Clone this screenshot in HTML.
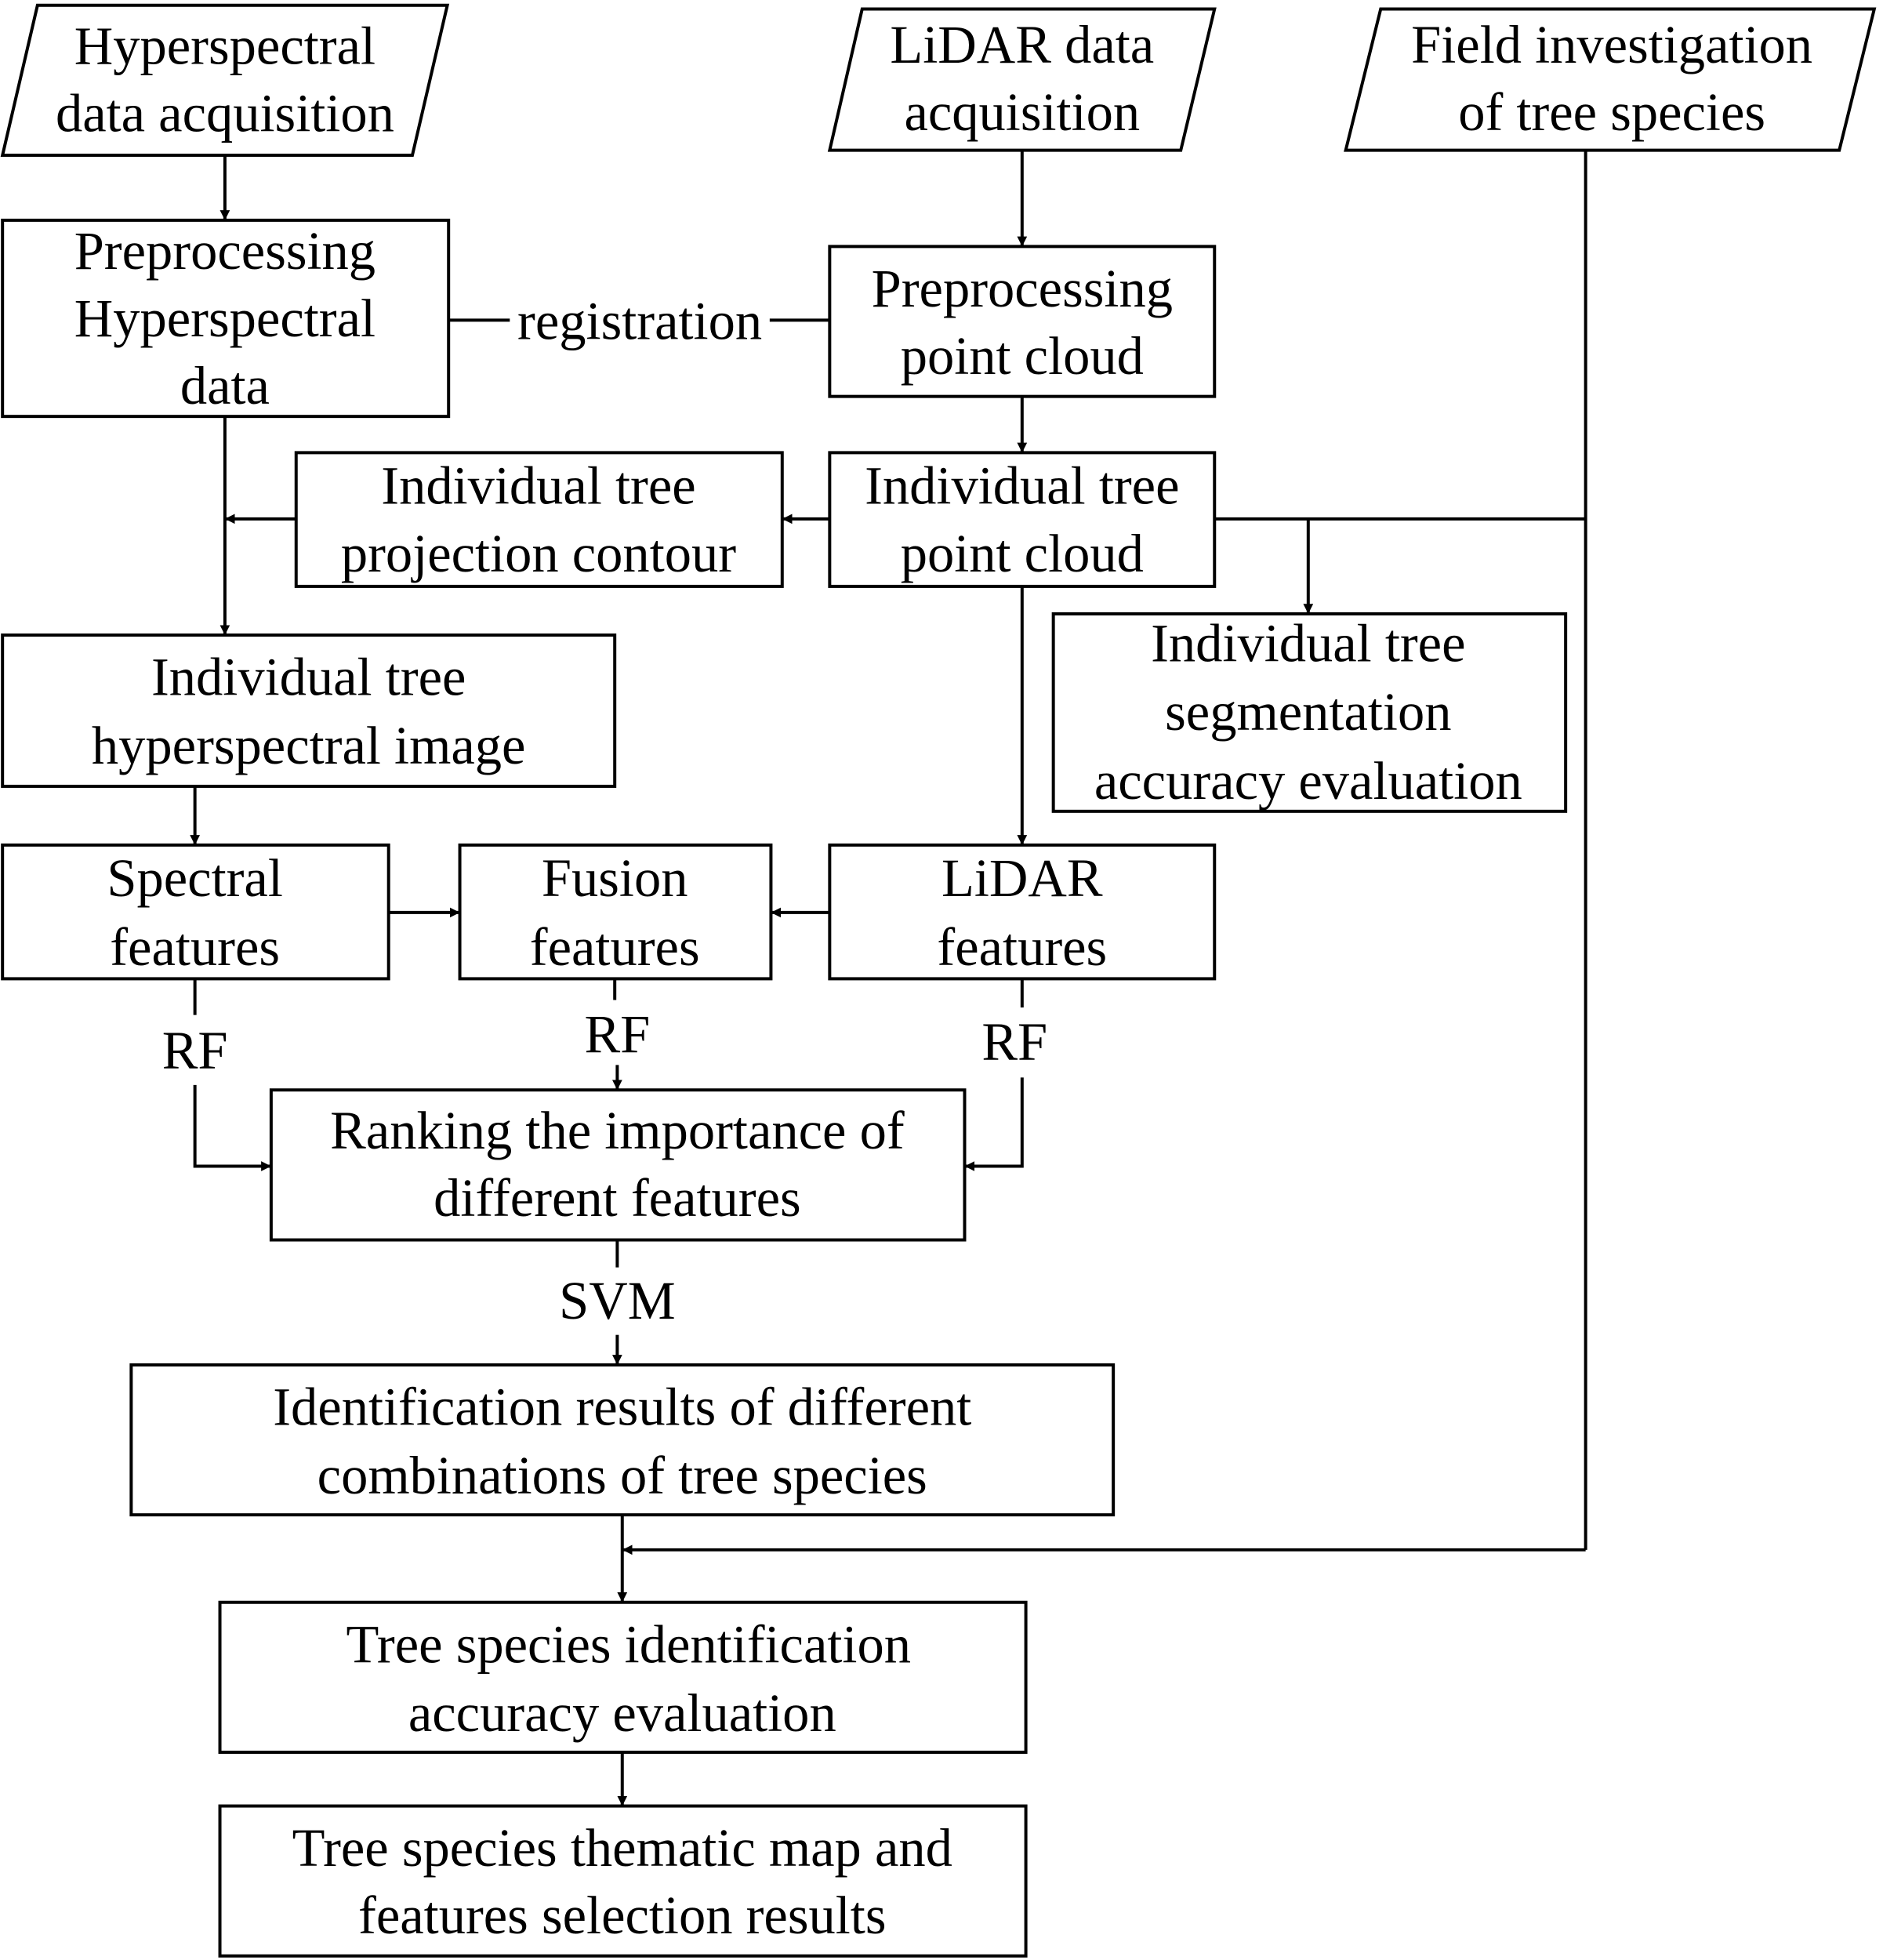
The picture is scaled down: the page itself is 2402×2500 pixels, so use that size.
<!DOCTYPE html>
<html><head><meta charset="utf-8"><style>html,body{margin:0;padding:0;background:#fff}svg{display:block}</style></head>
<body>
<svg xmlns="http://www.w3.org/2000/svg" width="2402" height="2500" viewBox="0 0 1507 1568">
<defs>
<marker id="a" markerWidth="8" markerHeight="8" refX="8" refY="4" orient="auto" markerUnits="userSpaceOnUse" viewBox="0 0 8 8">
<path d="M0,0 L8,4 L0,8 z" fill="#000"/>
</marker>
</defs>
<style>
text{font-family:"Liberation Serif",serif;font-size:43px;fill:#000;text-anchor:middle}
.s{fill:none;stroke:#000;stroke-width:2.5}
.l{stroke:#000;stroke-width:2.5;fill:none}
</style>
<g class="s">
<polygon points="30,4 358,4 330,124 2,124"/>
<polygon points="690,7 972,7 945,120 664,120"/>
<polygon points="1105,7 1500,7 1472,120 1077,120"/>
<rect x="2" y="176" width="357" height="157"/>
<rect x="664" y="197" width="308" height="120"/>
<rect x="664" y="362" width="308" height="107"/>
<rect x="237" y="362" width="389" height="107"/>
<rect x="2" y="508" width="490" height="121"/>
<rect x="843" y="491" width="410" height="158"/>
<rect x="2" y="676" width="309" height="107"/>
<rect x="368" y="676" width="249" height="107"/>
<rect x="664" y="676" width="308" height="107"/>
<rect x="217" y="872" width="555" height="120"/>
<rect x="105" y="1092" width="786" height="120"/>
<rect x="176" y="1282" width="645" height="120"/>
<rect x="176" y="1445" width="645" height="120"/>
</g>
<g class="l">
<line x1="180" y1="124" x2="180" y2="176" marker-end="url(#a)"/>
<line x1="818" y1="120" x2="818" y2="197" marker-end="url(#a)"/>
<line x1="359" y1="256" x2="408" y2="256"/>
<line x1="616" y1="256" x2="664" y2="256"/>
<line x1="818" y1="317" x2="818" y2="362" marker-end="url(#a)"/>
<line x1="664" y1="415" x2="626" y2="415" marker-end="url(#a)"/>
<line x1="237" y1="415" x2="180" y2="415" marker-end="url(#a)"/>
<line x1="180" y1="333" x2="180" y2="508" marker-end="url(#a)"/>
<polyline points="1269,120 1269,1240"/>
<line x1="972" y1="415" x2="1269" y2="415"/>
<line x1="1047" y1="415" x2="1047" y2="491" marker-end="url(#a)"/>
<line x1="818" y1="469" x2="818" y2="676" marker-end="url(#a)"/>
<line x1="156" y1="629" x2="156" y2="676" marker-end="url(#a)"/>
<line x1="311" y1="730" x2="368" y2="730" marker-end="url(#a)"/>
<line x1="664" y1="730" x2="617" y2="730" marker-end="url(#a)"/>
<line x1="156" y1="783" x2="156" y2="812"/>
<polyline points="156,868 156,933 217,933" marker-end="url(#a)"/>
<line x1="492" y1="783" x2="492" y2="800"/>
<line x1="494" y1="852" x2="494" y2="872" marker-end="url(#a)"/>
<line x1="818" y1="783" x2="818" y2="806"/>
<polyline points="818,862 818,933 772,933" marker-end="url(#a)"/>
<line x1="494" y1="992" x2="494" y2="1014"/>
<line x1="494" y1="1068" x2="494" y2="1092" marker-end="url(#a)"/>
<line x1="498" y1="1212" x2="498" y2="1282" marker-end="url(#a)"/>
<line x1="1269" y1="1240" x2="498" y2="1240" marker-end="url(#a)"/>
<line x1="498" y1="1402" x2="498" y2="1445" marker-end="url(#a)"/>
</g>
<text x="180" y="51">Hyperspectral</text>
<text x="180" y="105">data acquisition</text>
<text x="818" y="50">LiDAR data</text>
<text x="818" y="104">acquisition</text>
<text x="1290" y="50">Field investigation</text>
<text x="1290" y="104">of tree species</text>
<text x="180" y="215">Preprocessing</text>
<text x="180" y="269">Hyperspectral</text>
<text x="180" y="323">data</text>
<text x="512" y="271">registration</text>
<text x="818" y="245">Preprocessing</text>
<text x="818" y="299">point cloud</text>
<text x="818" y="403">Individual tree</text>
<text x="818" y="457">point cloud</text>
<text x="431" y="403">Individual tree</text>
<text x="431" y="457">projection contour</text>
<text x="247" y="556">Individual tree</text>
<text x="247" y="611">hyperspectral image</text>
<text x="1047" y="529">Individual tree</text>
<text x="1047" y="584">segmentation</text>
<text x="1047" y="639">accuracy evaluation</text>
<text x="156" y="717">Spectral</text>
<text x="156" y="772">features</text>
<text x="492" y="717">Fusion</text>
<text x="492" y="772">features</text>
<text x="818" y="717">LiDAR</text>
<text x="818" y="772">features</text>
<text x="156" y="855">RF</text>
<text x="494" y="842">RF</text>
<text x="812" y="848">RF</text>
<text x="494" y="919">Ranking the importance of</text>
<text x="494" y="973">different features</text>
<text x="494" y="1055">SVM</text>
<text x="498" y="1140">Identification results of different</text>
<text x="498" y="1195">combinations of tree species</text>
<text x="503" y="1330">Tree species identification</text>
<text x="498" y="1385">accuracy evaluation</text>
<text x="498" y="1493">Tree species thematic map and</text>
<text x="498" y="1547">features selection results</text>
</svg>
</body></html>
